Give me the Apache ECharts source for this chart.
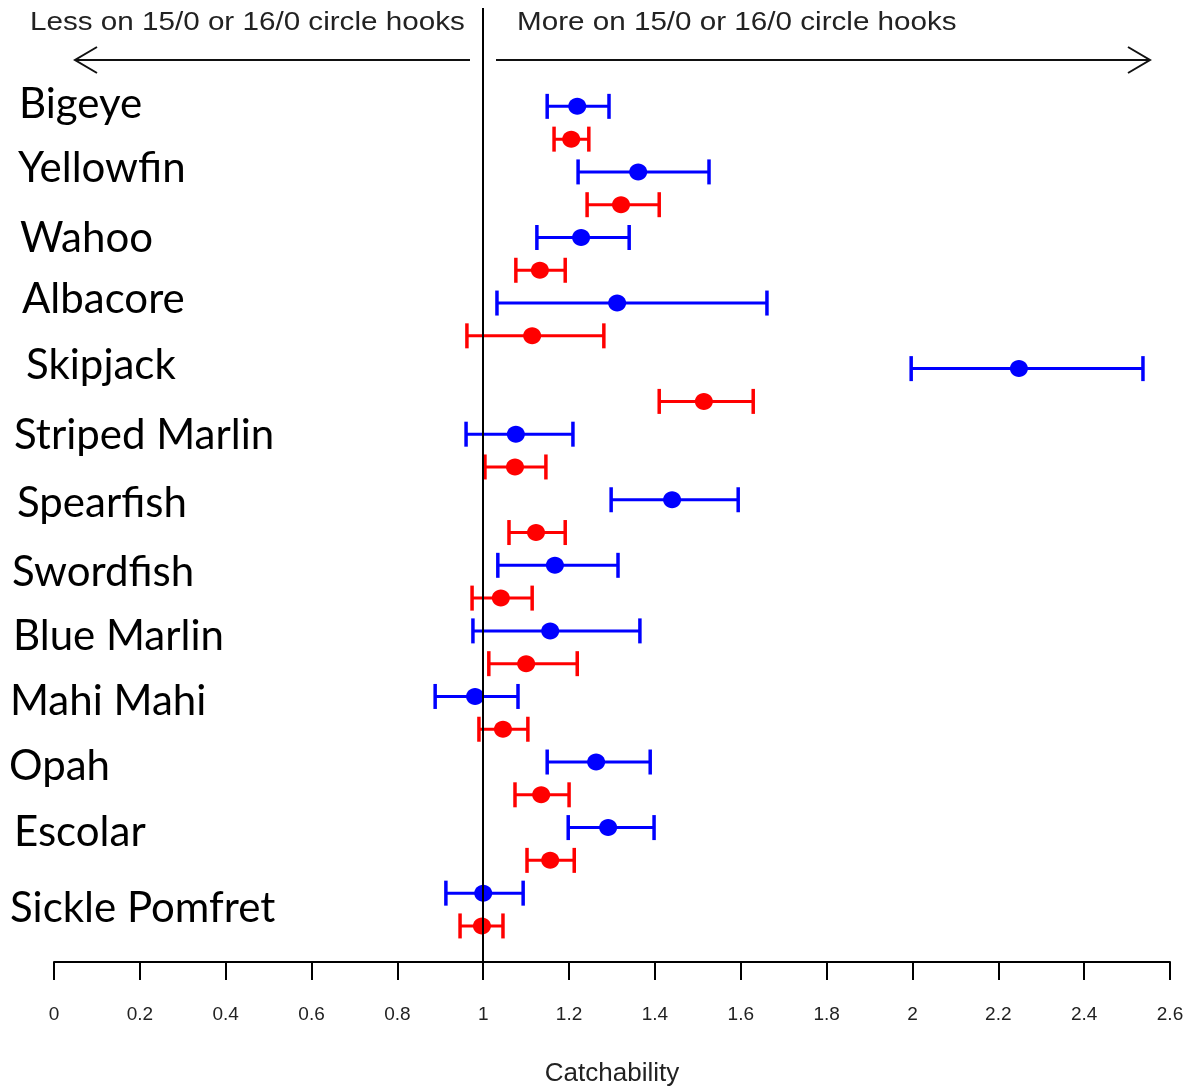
<!DOCTYPE html>
<html><head><meta charset="utf-8">
<script src="https://cdn.jsdelivr.net/npm/echarts@6/dist/echarts.min.js"></script>
<style>html,body{margin:0;padding:0;background:#fff}#c{width:1190px;height:1092px}</style>
</head><body><div id="c"></div>
<script>
const species = ['Bigeye','Yellowfin','Wahoo','Albacore','Skipjack','Striped Marlin','Spearfish','Swordfish','Blue Marlin','Mahi Mahi','Opah','Escolar','Sickle Pomfret'];
// blue: first estimate per species; red: second estimate per species
const blueLo   = [1.149,1.221,1.125,1.032,1.997,0.960,1.298,1.034,0.976,0.888,1.149,1.198,0.913];
const blueMean = [1.219,1.361,1.228,1.312,2.248,1.076,1.440,1.167,1.156,0.981,1.263,1.291,1.000];
const blueHi   = [1.293,1.526,1.340,1.661,2.537,1.209,1.594,1.314,1.365,1.081,1.389,1.398,1.093];
const redLo    = [1.165,1.242,1.076,0.962,1.410,1.004,1.060,0.974,1.013,0.990,1.074,1.102,0.946];
const redMean  = [1.205,1.321,1.132,1.114,1.514,1.074,1.123,1.041,1.100,1.046,1.135,1.156,0.997];
const redHi    = [1.246,1.410,1.191,1.281,1.629,1.146,1.191,1.114,1.219,1.104,1.200,1.212,1.046];
const xTicks = [0,0.2,0.4,0.6,0.8,1,1.2,1.4,1.6,1.8,2,2.2,2.4,2.6];
const leftNote = 'Less on 15/0 or 16/0 circle hooks';
const rightNote = 'More on 15/0 or 16/0 circle hooks';
const xName = 'Catchability';

const blueData = species.map((s,i)=>[blueLo[i],blueMean[i],blueHi[i],2*i]);
const redData  = species.map((s,i)=>[redLo[i],redMean[i],redHi[i],2*i+1]);

function renderItem(params, api){
  const r = api.value(3);
  const lo = api.coord([api.value(0), r]);
  const mid = api.coord([api.value(1), r]);
  const hi = api.coord([api.value(2), r]);
  const color = api.visual('color');
  const cap = 12.5;
  return {type:'group', children:[
    {type:'line', shape:{x1:lo[0],y1:lo[1],x2:hi[0],y2:hi[1]}, style:{stroke:color,lineWidth:3}},
    {type:'line', shape:{x1:lo[0],y1:lo[1]-cap,x2:lo[0],y2:lo[1]+cap}, style:{stroke:color,lineWidth:3.5}},
    {type:'line', shape:{x1:hi[0],y1:hi[1]-cap,x2:hi[0],y2:hi[1]+cap}, style:{stroke:color,lineWidth:3.5}},
    {type:'ellipse', shape:{cx:mid[0],cy:mid[1],rx:9,ry:8.5}, style:{fill:color}}
  ]};
}

const chart = echarts.init(document.getElementById('c'), null, {renderer:'canvas'});
const sans = '"Liberation Sans",Arial,sans-serif';
chart.setOption({
  animation:false,
  backgroundColor:'#fff',
  grid:{left:54, right:20, top:8, bottom:119},
  xAxis:{type:'value', min:0, max:2.6, interval:0.2,
    axisLine:{show:true,onZero:false,lineStyle:{color:'#000',width:2}},
    axisTick:{show:true,inside:false,length:18,lineStyle:{color:'#000',width:2}},
    axisLabel:{color:'#222',fontFamily:sans,fontSize:19,margin:43,
      formatter:v=>{const t=xTicks.find(k=>Math.abs(k-v)<1e-6);return t===undefined?'':String(t);}},
    splitLine:{show:false},
    name:xName, nameLocation:'middle', nameGap:99,
    nameTextStyle:{color:'#222',fontFamily:sans,fontSize:26}
  },
  yAxis:{type:'value', min:-3, max:26.1, inverse:true, show:false},
  series:[
    {type:'custom', name:'blue', renderItem, data:blueData, itemStyle:{color:'#0000ff'},
     encode:{x:[0,1,2],y:3}, z:3,
     markLine:{silent:true, symbol:'none', label:{show:false},
       lineStyle:{color:'#000',width:2,type:'solid'}, data:[{xAxis:1}]}},
    {type:'custom', name:'red', renderItem, data:redData, itemStyle:{color:'#ff0000'},
     encode:{x:[0,1,2],y:3}, z:3}
  ]
});

// annotations and species labels
const labelFont = 'Lato, "Noto Sans", sans-serif';
const nudgeX = [19,18,20,22,26,14,17,12,13,10,9,14,10];
const nudgeY = [-2,-3,1,-4,-3,1,4,7,6,5,4,5,15];
const g = [];
species.forEach((s,i)=>{
  const p = chart.convertToPixel({xAxisIndex:0,yAxisIndex:0},[0,2*i]);
  g.push({type:'text', x:nudgeX[i], y:p[1]+nudgeY[i],
    style:{text:s, fontFamily:labelFont, fontSize:42, fill:'#000', textVerticalAlign:'middle', textAlign:'left'}});
});
g.push({type:'text', x:30, y:23, scaleX:1.185, style:{text:leftNote, fontFamily:sans, fontSize:25, fill:'#222', textVerticalAlign:'middle'}});
g.push({type:'text', x:517, y:23, scaleX:1.185, style:{text:rightNote, fontFamily:sans, fontSize:25, fill:'#222', textVerticalAlign:'middle'}});
const aw = {stroke:'#111', lineWidth:2};
g.push({type:'polyline', shape:{points:[[75,60],[470,60]]}, style:aw});
g.push({type:'polyline', shape:{points:[[97,47],[75,60],[97,73]]}, style:Object.assign({fill:'none'},aw)});
g.push({type:'polyline', shape:{points:[[496,60],[1150,60]]}, style:aw});
g.push({type:'polyline', shape:{points:[[1128,47],[1150,60],[1128,73]]}, style:Object.assign({fill:'none'},aw)});
chart.setOption({graphic:g});
</script></body></html>
